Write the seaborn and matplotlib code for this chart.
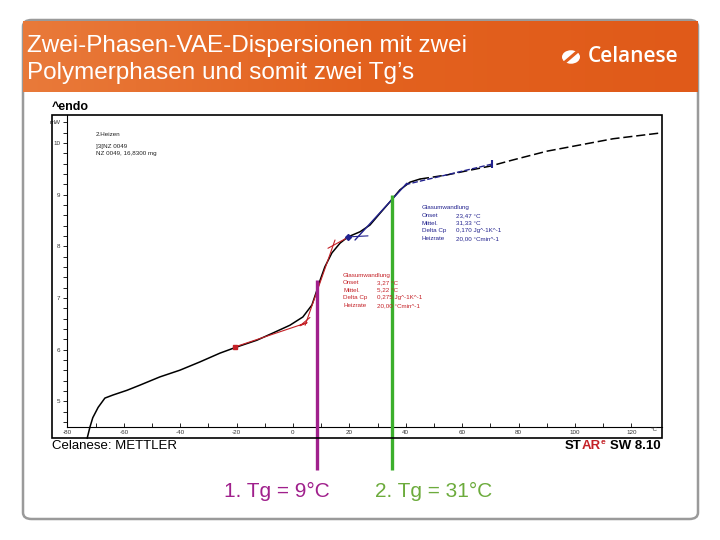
import numpy as np
import matplotlib
matplotlib.use("Agg")
import matplotlib.pyplot as plt
import seaborn as sns
from matplotlib.patches import FancyBboxPatch, Rectangle, Circle
from matplotlib.lines import Line2D

sns.set_theme(style="white")
plt.rcParams['font.family'] = ['Liberation Sans', 'DejaVu Sans']

# DSC curve (2. Heizen)
temp = [-73.0, -72.0, -71.0, -69.1, -66.7, -63.8, -58.9, -54.3, -47.2, -40.1,
        -33.0, -25.9, -19.9, -12.8, -7.1, -1.1, 3.5, 6.7, 8.5, 9.6,
        11.3, 13.8, 16.7, 19.5, 23.8, 27.3, 30.9, 34.4, 37.9, 41.5,
        45.0, 54.6, 61.7, 69.9, 78.0, 90.1, 101.8, 113.5, 130.0]
heat = [4.28, 4.50, 4.68, 4.88, 5.06, 5.12, 5.21, 5.31, 5.47, 5.60,
        5.76, 5.93, 6.05, 6.18, 6.32, 6.47, 6.63, 6.86, 7.15, 7.34,
        7.60, 7.87, 8.06, 8.18, 8.28, 8.41, 8.64, 8.86, 9.09, 9.24,
        9.30, 9.38, 9.46, 9.55, 9.67, 9.84, 9.96, 10.08, 10.19]

# evaluation tangents (first transition red, second blue)
red_base_t = [-20.6, 5.0, 2.5, 6.0]
red_base_p = [6.05, 6.52, 6.46, 6.62]
red_steep_t = [4.3, 14.9]
red_steep_p = [6.47, 8.12]
red_top_t = [12.4, 19.1]
red_top_p = [7.96, 8.16]
blue_base_t = [19.5, 26.6]
blue_base_p = [8.18, 8.20]
blue_steep_t = [22.0, 40.4]
blue_steep_p = [8.12, 9.22]
blue_top_t = [39.7, 70.6]
blue_top_p = [9.19, 9.59]

# glass transition markers
tg1_pos, tg1_top = 8.5, 7.34
tg2_pos, tg2_top = 35.1, 9.0
tg_bottom = 3.66

xticks = [-80, -60, -40, -20, 0, 20, 40, 60, 80, 100, 120]
yticks = [5, 6, 7, 8, 9, 10]

red_rows = [("Glasumwandlung", ""), ("Onset", "3,27 °C"), ("Mittel.", "5,22 °C"),
            ("Delta Cp", "0,275 Jg^-1K^-1"), ("Heizrate", "20,00 °Cmin^-1")]
blue_rows = [("Glasumwandlung", ""), ("Onset", "23,47 °C"), ("Mittel.", "31,33 °C"),
             ("Delta Cp", "0,170 Jg^-1K^-1"), ("Heizrate", "20,00 °Cmin^-1")]

W, H = 720, 540
def fx(x):
    return x / W
def fy(y):
    return 1 - y / H

fig = plt.figure(figsize=(7.2, 5.4), dpi=100)
fig.patch.set_facecolor('white')

# slide frame
fig.patches.append(FancyBboxPatch((fx(23), fy(519)), fx(675), 499 / H,
                                  boxstyle="round,pad=0,rounding_size=0.012",
                                  transform=fig.transFigure, facecolor='white',
                                  edgecolor='#9a9a9a', linewidth=1.8, zorder=-10))

# orange header with gradient
hax = fig.add_axes([fx(23), fy(92), fx(675), 71 / H], zorder=1)
grad = np.linspace(0, 1, 256).reshape(1, -1)
cmap = matplotlib.colors.LinearSegmentedColormap.from_list('hdr', ['#e97a3a', '#e3621f', '#e05a19'])
hax.imshow(grad, aspect='auto', cmap=cmap, extent=[0, 1, 0, 1])
hax.set_axis_off()
fig.text(fx(27), fy(46), "Zwei-Phasen-VAE-Dispersionen mit zwei", color='white',
         fontsize=17.5, va='center', ha='left', zorder=5)
fig.text(fx(27), fy(73), "Polymerphasen und somit zwei Tg’s", color='white',
         fontsize=17.5, va='center', ha='left', zorder=5)
fig.text(fx(588), fy(57), "Celanese", color='white', fontsize=15, va='center',
         ha='left', family=['Open Sans', 'DejaVu Sans'], fontweight='semibold', zorder=5)
fig.patches.append(Circle((fx(571), fy(57)), 0.0125, transform=fig.transFigure,
                          facecolor='white', edgecolor='none', zorder=5))
fig.lines.append(Line2D([fx(564), fx(578)], [fy(63), fy(51)], transform=fig.transFigure,
                        color='#e25f1e', lw=2.2, zorder=6))

# outer chart frame
fig.patches.append(Rectangle((fx(52), fy(438)), fx(610), 323 / H, transform=fig.transFigure,
                             facecolor='none', edgecolor='black', linewidth=1.2, zorder=3))

ax = fig.add_axes([fx(67.4), fy(427), fx(595), 312 / H], zorder=1)
ax.set_facecolor('white')

mask = np.array(temp) <= 45.0
lo_t = [t for t, m in zip(temp, mask) if m]
lo_p = [p for p, m in zip(heat, mask) if m]
hi_t = [t for t, m in zip(temp, mask) if not m]
hi_p = [p for p, m in zip(heat, mask) if not m]
hi_t = [lo_t[-1]] + hi_t
hi_p = [lo_p[-1]] + hi_p

sns.lineplot(x=lo_t, y=lo_p, ax=ax, color='black', linewidth=1.1, sort=False,
             estimator=None, clip_on=False, zorder=4)
sns.lineplot(x=hi_t, y=hi_p, ax=ax, color='black', linewidth=1.1, sort=False,
             estimator=None, zorder=4, linestyle=(0, (6, 2.5)))

red = '#c42127'
blue = '#22228e'
ax.plot(red_base_t, red_base_p, color=red, lw=0.8, zorder=5)
ax.plot(red_steep_t, red_steep_p, color=red, lw=0.8, zorder=5)
ax.plot(red_top_t, red_top_p, color=red, lw=0.8, zorder=5)
ax.plot(red_base_t[:1], red_base_p[:1], marker='s', ms=3, color=red, zorder=6)
ax.plot(blue_base_t, blue_base_p, color=blue, lw=0.8, zorder=5)
ax.plot(blue_steep_t, blue_steep_p, color=blue, lw=1.0, zorder=5)
ax.plot(blue_top_t, blue_top_p, color=blue, lw=1.0, zorder=5, linestyle=(0, (4, 1.5)))
ax.plot(blue_base_t[:1], blue_base_p[:1], marker='D', ms=3, color=blue, zorder=6)
ax.plot(blue_top_t[-1:], blue_top_p[-1:], marker='|', ms=6, mew=1.5, color=blue, zorder=6)

# Tg lines
ax.plot([tg1_pos, tg1_pos], [tg_bottom, tg1_top], color='#a0208c', lw=2.4,
        clip_on=False, zorder=7, solid_capstyle='butt')
ax.plot([tg2_pos, tg2_pos], [tg_bottom, tg2_top], color='#3caf2c', lw=2.4,
        clip_on=False, zorder=7, solid_capstyle='butt')

ax.set_xlim(-80, 131)
ax.set_ylim(4.5, 10.54)
ax.set_xticks(xticks)
ax.set_xticklabels([str(v) for v in xticks])
ax.set_xticks(np.arange(-70, 130, 20), minor=True)
ax.set_yticks(yticks + [10.4])
ax.set_yticklabels([str(v) for v in yticks] + ['mW'])
ax.set_yticks(np.arange(4.6, 10.4, 0.2), minor=True)
ax.tick_params(axis='x', which='both', direction='in', length=3, width=0.6,
               labelsize=4.5, pad=2, colors='black', labelcolor='#333333', bottom=True)
ax.tick_params(axis='y', which='both', direction='out', length=3, width=0.6,
               labelsize=4.5, pad=2, colors='black', labelcolor='#333333', left=True)
for side in ['top', 'right']:
    ax.spines[side].set_visible(False)
for side in ['left', 'bottom']:
    ax.spines[side].set_color('black')
    ax.spines[side].set_linewidth(0.8)
ax.grid(False)
ax.set_xlabel('')
ax.set_ylabel('')
ax.text(128, 4.5, "°C", transform=ax.transData, fontsize=4.5, ha='center', va='top',
        color='#333333')

# texts inside the chart
fig.text(fx(52), fy(107), "^endo", fontsize=9, color='black', va='center', ha='left',
         fontweight='bold')
fig.text(fx(96), fy(135), "2.Heizen", fontsize=4.5, color='#222222', va='center')
fig.text(fx(96), fy(147), "]3[NZ 0049", fontsize=4.5, color='#222222', va='center')
fig.text(fx(96), fy(154), "NZ 0049, 16,8300 mg", fontsize=4.5, color='#222222', va='center')

for i, (lab, val) in enumerate(blue_rows):
    y = 208 + i * 7.6
    fig.text(fx(422), fy(y), lab, fontsize=4.5, color=blue, va='center', zorder=8)
    fig.text(fx(456), fy(y), val, fontsize=4.5, color=blue, va='center', zorder=8)
for i, (lab, val) in enumerate(red_rows):
    y = 275 + i * 7.6
    fig.text(fx(343), fy(y), lab, fontsize=4.5, color=red, va='center', zorder=8)
    fig.text(fx(377), fy(y), val, fontsize=4.5, color=red, va='center', zorder=8)

# footer of the instrument print
fig.text(fx(52), fy(446), "Celanese: METTLER", fontsize=9.5, color='black', va='center',
         ha='left')
fig.text(fx(565), fy(446), "ST", fontsize=9.5, color='black', va='center', ha='left',
         fontweight='bold')
fig.text(fx(582), fy(446), "AR", fontsize=9.5, color=red, va='center', ha='left',
         fontweight='bold')
fig.text(fx(601), fy(443), "e", fontsize=6, color=red, va='center', ha='left',
         fontweight='bold')
fig.text(fx(661), fy(446), "SW 8.10", fontsize=9.5, color='black', va='center', ha='right',
         fontweight='bold')

# Tg labels
fig.text(fx(277), fy(491), "1. Tg = 9°C", fontsize=15, color='#a0208c', va='center',
         ha='center')
fig.text(fx(434), fy(491), "2. Tg = 31°C", fontsize=15, color='#6cab3c', va='center',
         ha='center')

plt.savefig("out.png", dpi=100)
